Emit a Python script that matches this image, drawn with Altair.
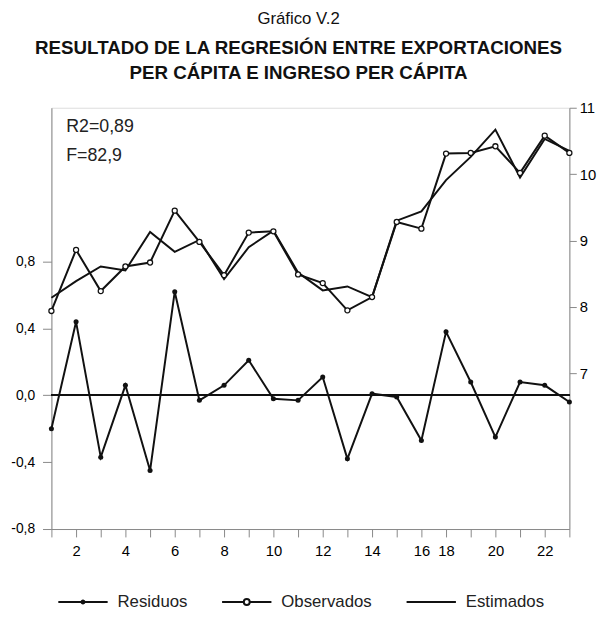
import altair as alt
import pandas as pd

# ---- data ----
periodos = ["1", "2", "3", "4", "5", "6", "7", "8", "9", "10", "11", "12",
            "13", "14", "15", "16", "18", "19", "20", "21", "22", "23"]
etiquetas_x = ["2", "4", "6", "8", "10", "12", "14", "16", "18", "20", "22"]

residuos = [-0.20, 0.44, -0.37, 0.06, -0.45, 0.62, -0.03, 0.06, 0.21, -0.02, -0.03,
            0.11, -0.38, 0.01, -0.01, -0.27, 0.38, 0.08, -0.25, 0.08, 0.06, -0.04]
observados = [7.94, 8.86, 8.24, 8.61, 8.67, 9.45, 8.98, 8.48, 9.12, 9.14, 8.49,
              8.36, 7.95, 8.15, 9.28, 9.18, 10.31, 10.32, 10.42, 10.02, 10.58, 10.32]
estimados = [8.14, 8.39, 8.61, 8.55, 9.13, 8.83, 9.01, 8.42, 8.90, 9.15, 8.52,
             8.25, 8.31, 8.15, 9.30, 9.44, 9.91, 10.26, 10.67, 9.95, 10.53, 10.35]

ticks_izq = [-0.8, -0.4, 0.0, 0.4, 0.8]
ticks_der = [7, 8, 9, 10, 11]
series = ["Residuos", "Observados", "Estimados"]
anotaciones = ["R2=0,89", "F=82,9"]

titulo = "Gráfico V.2"
subtitulo = ["RESULTADO DE LA REGRESIÓN ENTRE EXPORTACIONES",
             "PER CÁPITA E INGRESO PER CÁPITA"]

df = pd.DataFrame({"periodo": periodos, "Residuos": residuos,
                   "Observados": observados, "Estimados": estimados})

FONT = "Liberation Sans"
INK = "#111111"
AXC = "#555555"

lbl_list = ",".join("'%s'" % e for e in etiquetas_x)
x_enc = alt.X(
    "periodo:O", sort=periodos,
    scale=alt.Scale(type="point", padding=0),
    axis=alt.Axis(title=None, labelAngle=0, tickSize=8, labelPadding=7,
                  labelFontSize=15,
                  labelExpr="indexof([%s], datum.label) >= 0 ? datum.label : ''" % lbl_list),
)

y_left_scale = alt.Scale(domain=[-0.8, 1.721], nice=False, zero=False)
y_left_axis = alt.Axis(
    title=None, orient="left", values=ticks_izq, tickSize=9, labelPadding=8,
    labelFontSize=14, grid=False,
    labelExpr="(datum.value < 0 ? '-' : '') + replace(format(abs(datum.value), '.1f'), '.', ',')",
)
y_right_scale = alt.Scale(domain=[4.657, 11], nice=False, zero=False)
y_right_axis = alt.Axis(title=None, orient="right", values=ticks_der, tickSize=7,
                        labelPadding=3, labelFontSize=15, grid=False, format="d")

base = alt.Chart(df)

zero_rule = base.mark_rule(color=INK, strokeWidth=1.4).encode(
    y=alt.datum(0)
)
res_line = base.mark_line(color=INK, strokeWidth=2).encode(
    x=x_enc, y=alt.Y("Residuos:Q", scale=y_left_scale, axis=y_left_axis)
)
res_pts = base.mark_point(filled=True, color=INK, size=26, opacity=1).encode(
    x=x_enc, y=alt.Y("Residuos:Q", scale=y_left_scale, axis=y_left_axis)
)
left = alt.layer(zero_rule, res_line, res_pts)

est_line = base.mark_line(color=INK, strokeWidth=2).encode(
    x=x_enc, y=alt.Y("Estimados:Q", scale=y_right_scale, axis=y_right_axis)
)
obs_line = base.mark_line(color=INK, strokeWidth=2).encode(
    x=x_enc, y=alt.Y("Observados:Q", scale=y_right_scale, axis=y_right_axis)
)
obs_pts = base.mark_point(filled=True, fill="white", stroke=INK, strokeWidth=1.3,
                          size=26, opacity=1).encode(
    x=x_enc, y=alt.Y("Observados:Q", scale=y_right_scale, axis=y_right_axis)
)
right = alt.layer(est_line, obs_line, obs_pts)

# legend helper (symbols only appear in the legend)
p_res = "M-1,0L1,0M-0.06,0A0.06,0.06,0,1,1,0.06,0A0.06,0.06,0,1,1,-0.06,0Z"
p_obs = "M-1,0L-0.12,0M0.12,0L1,0M-0.12,0A0.12,0.12,0,1,1,0.12,0A0.12,0.12,0,1,1,-0.12,0Z"
p_est = "M-1,0L1,0"
leg_df = pd.DataFrame({"serie": series})
legend_layer = alt.Chart(leg_df).mark_point(color=INK, strokeWidth=2, opacity=0, size=0).encode(
    shape=alt.Shape(
        "serie:N",
        scale=alt.Scale(domain=series, range=[p_res, p_obs, p_est]),
        legend=alt.Legend(
            title=None, orient="none", legendX=6, legendY=475, direction="horizontal",
            symbolSize=2500, symbolStrokeWidth=2, symbolStrokeColor=INK,
            symbolOpacity=1, labelFont=FONT, labelFontSize=17, labelColor="#222222",
            labelOffset=9, columnPadding=31, padding=0,
        ),
    )
)

ann1 = alt.Chart(pd.DataFrame({"t": [anotaciones[0]]})).mark_text(
    align="left", baseline="middle", font=FONT, fontSize=18, color="#222222"
).encode(text="t:N", x=alt.value(15), y=alt.value(20))
ann2 = alt.Chart(pd.DataFrame({"t": [anotaciones[1]]})).mark_text(
    align="left", baseline="middle", font=FONT, fontSize=18, color="#222222"
).encode(text="t:N", x=alt.value(15), y=alt.value(49))

chart = alt.layer(left, right, legend_layer, ann1, ann2).resolve_scale(
    y="independent"
).properties(
    width=525, height=427,
    padding={"left": 44, "top": 97, "right": 28, "bottom": 81},
    autosize=alt.AutoSizeParams(type="none"),
    title=alt.Title(
        text=titulo, subtitle=subtitulo, anchor="middle", dx=-12, offset=17,
        font=FONT, fontSize=17, fontWeight="normal", color=INK,
        subtitleFont=FONT, subtitleFontSize=19, subtitleFontWeight="bold",
        subtitleColor=INK, subtitleLineHeight=25, subtitlePadding=12,
    ),
).configure_view(strokeWidth=0).configure_axis(
    labelFont=FONT, labelColor="#333333", domainColor=AXC, tickColor=AXC,
    domainWidth=1.3, tickWidth=1.2,
).configure(background="white")

chart.save("out.html", embed_options={"renderer": "svg", "actions": False})
